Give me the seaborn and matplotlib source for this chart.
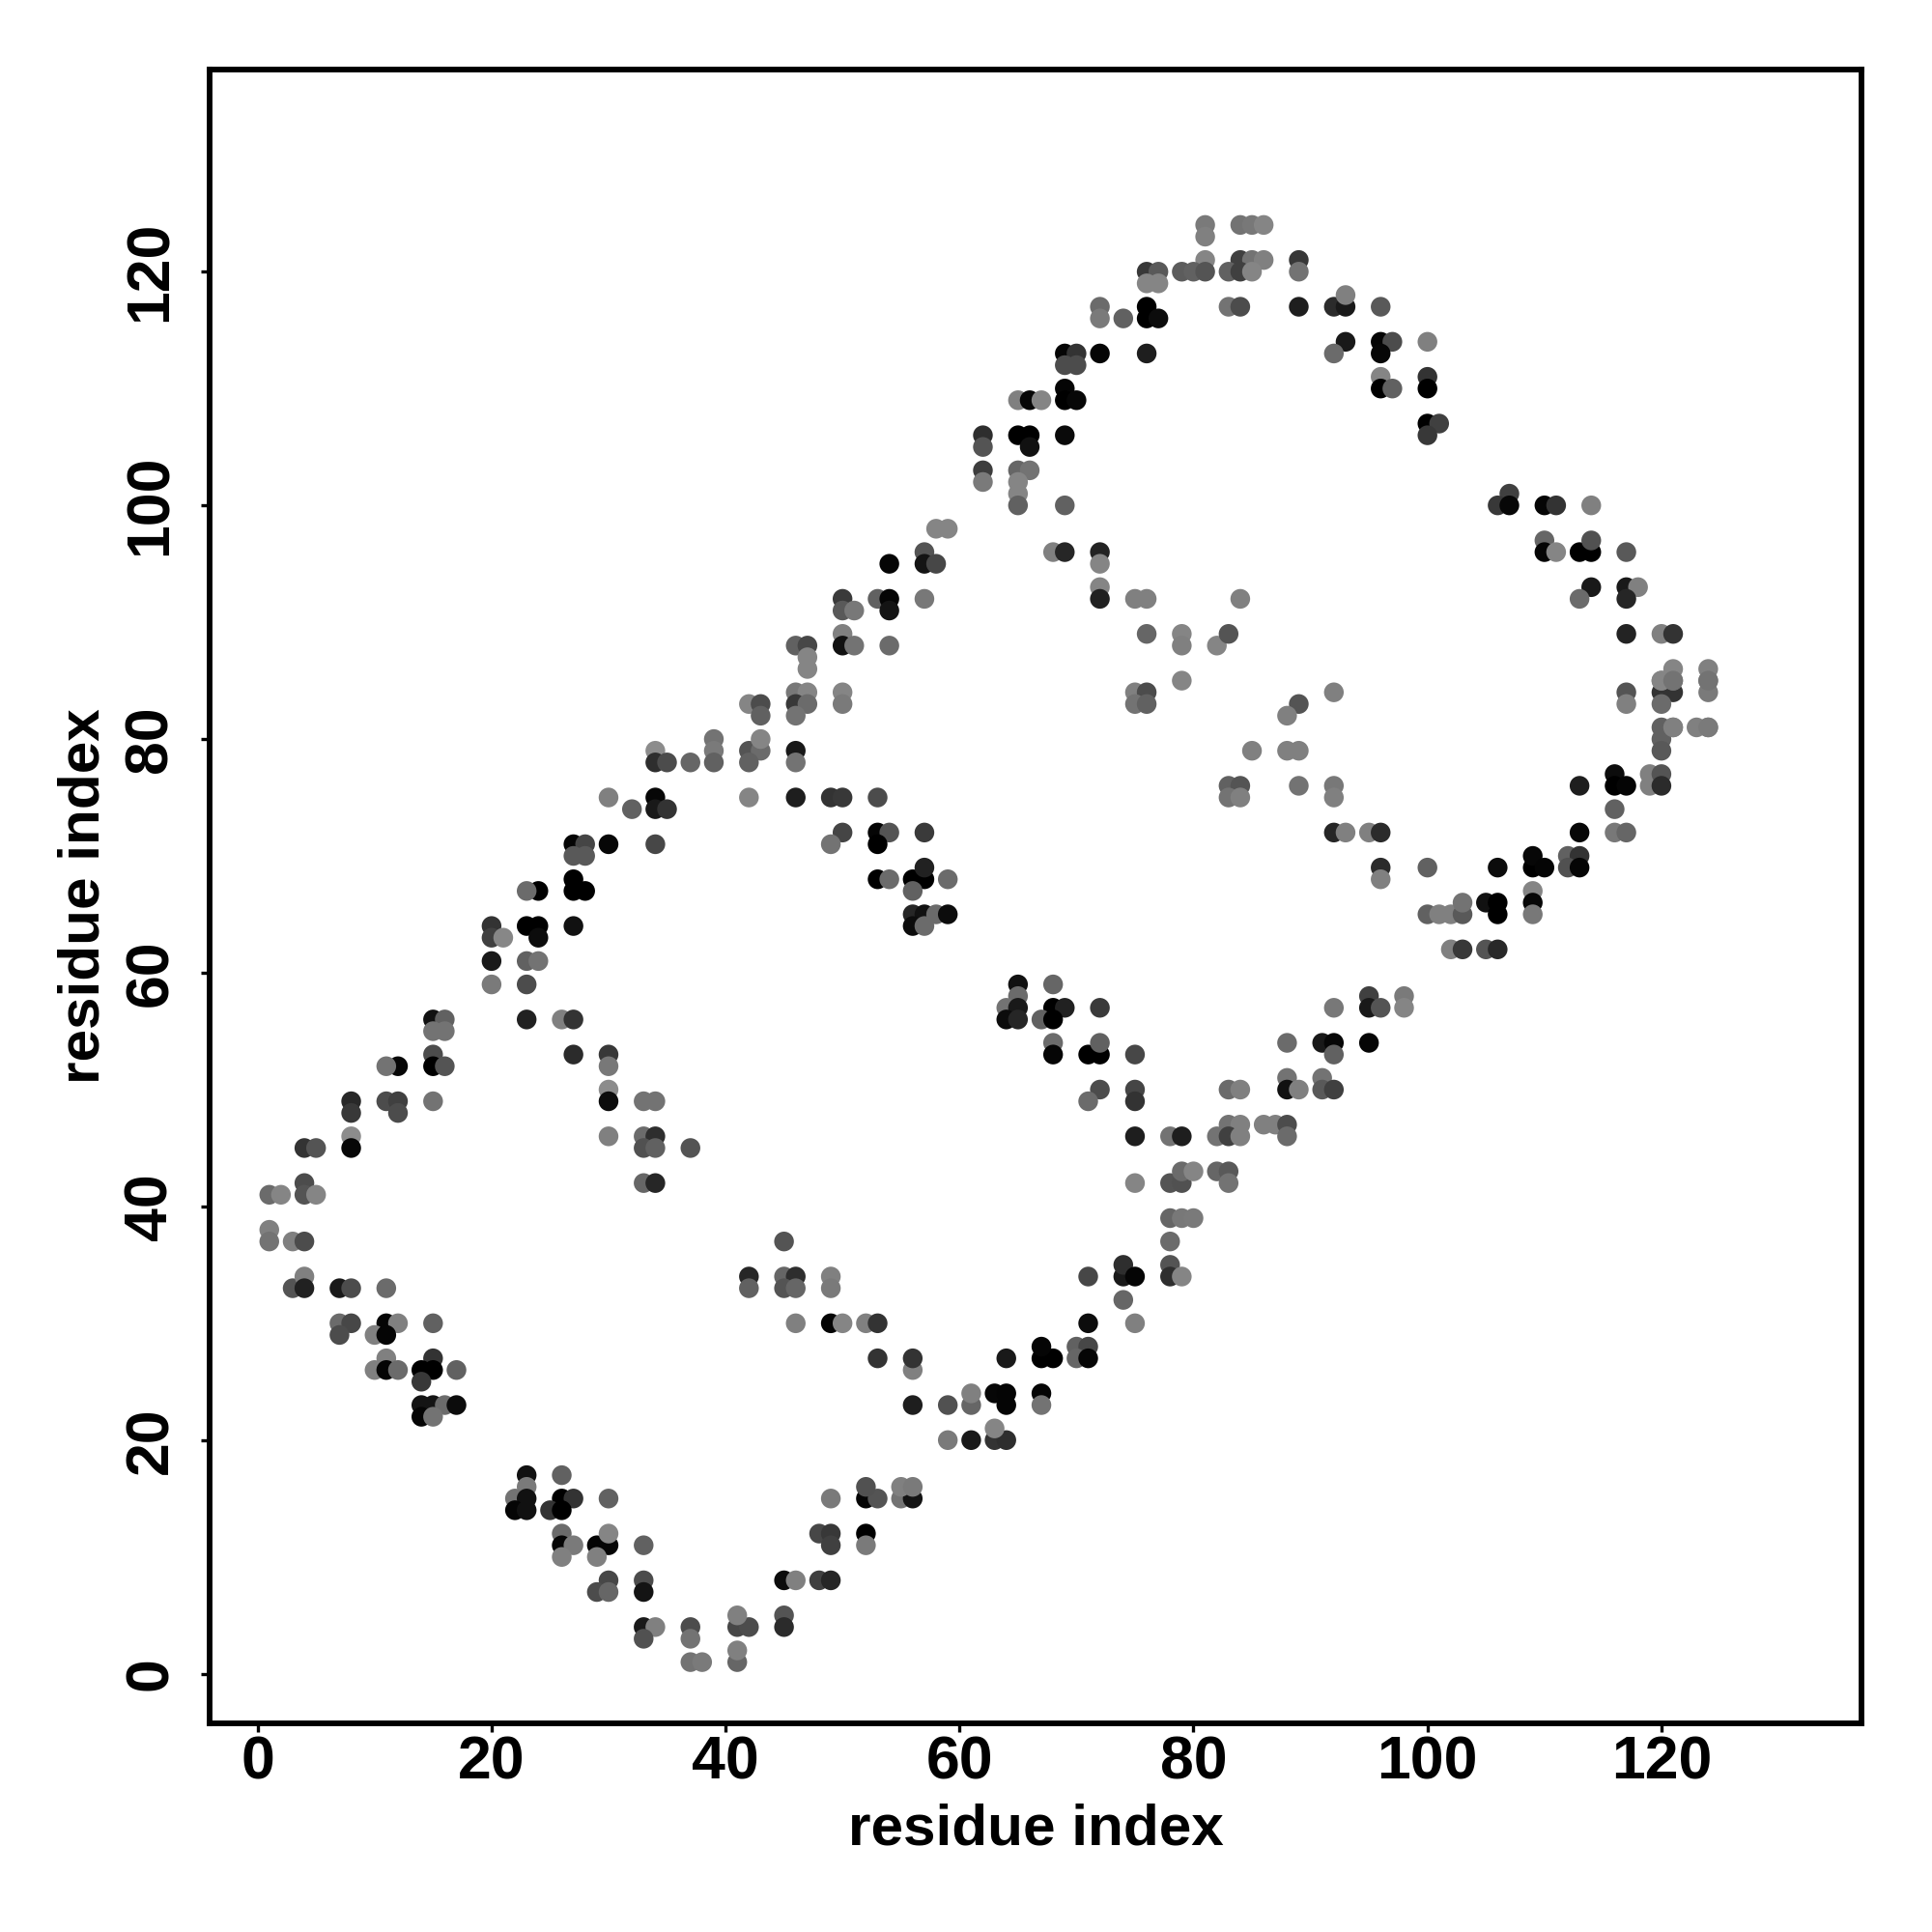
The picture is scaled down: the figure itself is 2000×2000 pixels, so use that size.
import matplotlib
matplotlib.use('Agg')
import matplotlib.pyplot as plt
import pandas as pd
import seaborn as sns

# contact map, line by line the three lists stay aligned
res_i = [
    1, 2, 4, 4, 5, 1, 1, 3, 4, 3, 4, 4, 7, 8, 11,
    7, 8, 7, 11, 12, 10, 11, 15, 11, 10, 11, 12, 15, 14, 15, 14, 17,
    14, 15, 16, 17, 14, 15,
    23, 23, 22, 23, 22, 23, 26, 26, 27, 25, 26, 30,
    26, 26, 27, 26, 29, 30, 30, 29, 33,
    30, 29, 30, 33, 33, 33, 34, 33, 37, 37, 37, 38,
    41, 41, 41, 42, 41, 45, 45,
    45, 46, 48, 49, 48, 49, 49, 52, 52,
    49, 52, 53, 55, 56, 52, 55, 56,
    59, 61, 63, 64, 63, 56, 59, 61, 61, 63, 64, 64, 67, 67,
    56, 53, 56, 64, 67, 68, 67, 70, 71, 70, 71,
    46, 49, 50, 52, 53, 71, 75, 74,
    42, 42, 45, 46, 45, 46, 49, 49,
    71, 74, 74, 75, 78, 78, 79, 78, 45, 78, 79, 80, 75, 78, 79, 79, 80, 82, 83, 83, 33, 34,
    39, 39, 39, 34, 34, 35, 37,
    30, 32, 34, 34, 35, 34, 27, 28, 27, 28, 30,
    27, 27, 28, 24, 23, 20, 23, 24, 24, 20, 21, 27,
    20, 23, 24, 20, 23, 15, 16, 15, 16, 23, 26, 27,
    15, 15, 16, 12, 11, 27, 30, 30,
    11, 12, 12, 8, 8, 15, 30, 30, 33, 34,
    8, 8, 4, 5, 30, 33, 34, 33, 34, 37,
    42, 43, 43, 46, 47, 46, 47, 46, 50, 50,
    42, 43, 43, 42, 46, 46, 42, 46, 49, 50, 53,
    50, 49, 53, 54, 53, 57, 53, 54, 56, 57, 57, 56, 59,
    56, 57, 58, 59, 56, 57,
    65, 68, 65, 64, 65, 64, 65, 68, 69, 67, 68, 72,
    68, 68, 71, 72, 72, 75, 72, 71, 75, 75, 75, 78, 79,
    92, 89, 88, 85, 88, 89, 83, 84, 83, 84, 89, 92, 92,
    92, 93, 95, 96, 96, 96, 100, 100, 101, 102, 103, 103,
    105, 106, 106, 109, 109, 109, 102, 103, 105, 106,
    106, 109, 109, 110, 112, 113, 112, 113,
    113, 116, 116, 117, 119, 119, 120, 120, 116, 116, 117, 113,
    117, 117, 120, 121, 120, 121, 120, 124, 124, 124, 121,
    120, 120, 120, 121, 123, 124,
    92, 95, 95, 96, 98, 98, 88, 91, 92, 92, 95,
    88, 88, 89, 91, 91, 92, 83, 84, 83, 84, 86, 87, 88, 82, 83, 84, 88,
    81, 81, 81, 76, 77, 79, 80, 81, 76, 77,
    72, 72, 74, 76, 76, 77, 69, 70, 72, 76, 69, 70,
    69, 69, 70, 65, 66, 67,
    62, 62, 65, 66, 66, 69,
    62, 62, 65, 66, 65, 65, 65, 69,
    58, 59, 68, 69, 72, 72, 54, 57, 57, 58,
    72, 72, 75, 76, 53, 54, 54, 50, 50, 51, 57,
    76, 79, 79, 82, 50, 50, 51, 54, 46, 47, 47, 47, 79, 75, 76, 75, 76,
    84, 85, 86, 84, 85, 86, 83, 84, 85, 89, 89,
    83, 84, 89, 92, 93, 93, 96,
    93, 92, 96, 97, 96, 100,
    96, 96, 97, 100, 100, 100, 101, 100,
    107, 106, 107, 110, 111, 114,
    110, 110, 111, 113, 114, 114, 117,
    114, 113, 117, 118, 117, 117, 120, 121,
    84, 83, 120, 121, 121, 124, 124,
]
res_j = [
    41, 41, 42, 41, 41, 38, 37, 37, 37, 33, 34, 33, 33, 33, 33,
    30, 30, 29, 30, 30, 29, 29, 30, 27, 26, 26, 26, 27, 26, 26, 25, 26,
    23, 23, 23, 23, 22, 22,
    17, 16, 15, 15, 14, 14, 17, 15, 15, 14, 14, 15,
    12, 11, 11, 10, 11, 11, 12, 10, 11,
    8, 7, 7, 8, 7, 4, 4, 3, 4, 3, 1, 1,
    1, 2, 4, 4, 5, 5, 4,
    8, 8, 8, 8, 12, 12, 11, 12, 11,
    15, 15, 15, 15, 15, 16, 16, 16,
    20, 20, 20, 20, 21, 23, 23, 23, 24, 24, 24, 23, 24, 23,
    26, 27, 27, 27, 27, 27, 28, 28, 28, 27, 27,
    30, 30, 30, 30, 30, 30, 30, 32,
    34, 33, 34, 34, 33, 33, 34, 33,
    34, 34, 35, 34, 35, 34, 34, 37, 37, 39, 39, 39, 42, 42, 42, 43, 43, 43, 43, 42, 42, 42,
    80, 79, 78, 79, 78, 78, 78,
    75, 74, 75, 74, 74, 71, 71, 71, 70, 70, 71,
    68, 67, 67, 67, 67, 64, 64, 64, 63, 63, 63, 64,
    61, 61, 61, 59, 59, 56, 56, 55, 55, 56, 56, 56,
    53, 52, 52, 52, 52, 53, 53, 52,
    49, 49, 48, 49, 48, 49, 50, 49, 49, 49,
    46, 45, 45, 45, 46, 46, 46, 45, 45, 45,
    83, 83, 82, 84, 84, 83, 83, 82, 84, 83,
    79, 79, 80, 78, 79, 78, 75, 75, 75, 75, 75,
    72, 71, 72, 72, 71, 72, 68, 68, 68, 68, 69, 67, 68,
    65, 65, 65, 65, 64, 64,
    59, 59, 58, 57, 57, 56, 56, 57, 57, 56, 56, 57,
    54, 53, 53, 53, 54, 53, 50, 49, 50, 49, 46, 46, 46,
    84, 83, 82, 79, 79, 79, 76, 76, 75, 75, 76, 76, 75,
    72, 72, 72, 72, 69, 68, 69, 65, 65, 65, 65, 66,
    66, 66, 65, 67, 66, 65, 62, 62, 62, 62,
    69, 69, 70, 69, 70, 70, 69, 69,
    76, 77, 76, 76, 77, 76, 77, 76, 74, 72, 72, 72,
    84, 83, 84, 84, 85, 85, 83, 85, 84, 81, 81,
    81, 80, 79, 81, 81, 81,
    57, 58, 57, 57, 58, 57, 54, 54, 54, 53, 54,
    51, 50, 50, 51, 50, 50, 50, 50, 47, 47, 47, 47, 47, 46, 46, 46, 46,
    124, 123, 121, 120, 120, 120, 120, 120, 119, 119,
    117, 116, 116, 117, 116, 116, 113, 113, 113, 113, 112, 112,
    110, 109, 109, 109, 109, 109,
    106, 105, 106, 106, 105, 106,
    103, 102, 103, 103, 102, 101, 100, 100,
    98, 98, 96, 96, 96, 95, 95, 96, 95, 95,
    93, 92, 92, 92, 92, 92, 91, 92, 91, 91, 92,
    89, 89, 88, 88, 89, 88, 88, 88, 88, 88, 87, 86, 85, 84, 84, 83, 83,
    124, 124, 124, 121, 121, 121, 120, 120, 120, 121, 120,
    117, 117, 117, 117, 117, 118, 117,
    114, 113, 114, 114, 113, 114,
    111, 110, 110, 111, 110, 107, 107, 106,
    101, 100, 100, 100, 100, 100,
    97, 96, 96, 96, 96, 97, 96,
    93, 92, 93, 93, 92, 89, 89, 89,
    92, 89, 85, 86, 85, 86, 85,
]
grey = [
    .42, .52, .3, .33, .52, .5, .45, .5, .3, .33, .5, .13, .1, .3, .42,
    .42, .28, .3, .02, .5, .5, .02, .38, .5, .5, .02, .42, .2, 0, 0, .22, .38,
    .08, .08, .42, .05, .02, .45,
    .07, .48, .45, .07, .02, .07, .38, 0, .2, .2, 0, .38,
    .42, .02, .48, .5, .02, .02, .52, .5, .38,
    .28, .3, .4, .3, .08, .1, .5, .32, .3, .45, .45, .48,
    .4, .5, .28, .3, .5, .33, .17,
    .05, .5, .25, .15, .28, .22, .25, 0, .48,
    .48, .02, .33, .45, .08, .32, .5, .48,
    .48, .1, .2, .18, .52, .12, .32, .4, .5, .03, .02, .02, .02, .45,
    .5, .2, .2, .1, 0, 0, .02, .38, .28, .4, .02,
    .5, .02, .52, .5, .2, .05, .5, .4,
    .15, .38, .4, .18, .33, .4, .5, .48,
    .28, .1, .18, .02, .33, .18, .52, .42, .33, .4, .47, .48, .52, .33, .32, .42, .52, .4, .35, .45, .4, .15,
    .45, .48, .38, .55, .18, .3, .4,
    .5, .38, .03, .1, .2, .28, .02, .27, .35, .35, .03,
    0, 0, 0, 0, .42, .2, 0, 0, .05, .25, .53, .07,
    .1, .38, .45, .48, .3, .07, .38, .45, .45, .13, .5, .2,
    .3, 0, .33, .03, .45, .17, .22, .47,
    .3, .25, .3, .16, .22, .45, .55, .05, .45, .45,
    .55, .03, .2, .33, .5, .42, .18, .32, .38, .33,
    .52, .3, .38, .47, .52, .22, .42, .45, .52, .48,
    .33, .42, .52, .38, .1, .45, .52, .12, .2, .22, .3,
    .27, .45, .02, .33, 0, .23, 0, .42, 0, 0, .13, .38, .42,
    .15, .07, .42, .05, .05, .42,
    .07, .4, .42, .45, .1, .05, .15, 0, .13, .38, 0, .23,
    .42, .02, 0, 0, .38, .28, .3, .42, .27, .2, .12, .45, .12,
    .5, .33, .5, .5, .5, .5, .38, .33, .45, .5, .45, .47, .5,
    .15, .5, .5, .17, .17, .5, .38, .38, .5, .5, .35, .45,
    .07, 0, 0, .52, .03, .47, .5, .22, .33, .16,
    .05, 0, .03, .02, .38, .2, .32, .02,
    .12, .05, 0, .02, .5, .5, .33, .17, .38, .47, .4, .03,
    .33, .5, .2, .2, .5, .45, .42, .45, .48, .5, .48,
    .38, .38, .35, .5, .5, .48,
    .47, .25, .1, .33, .48, .52, .42, .1, .03, .38, .02,
    .45, .07, .5, .45, .35, .25, .42, .5, .45, .5, .5, .5, .3, .45, .25, .5, .42,
    .48, .5, .52, .22, .35, .36, .38, .33, .52, .52,
    .42, .48, .38, 0, 0, .05, .02, .2, .02, .12, .3, .3,
    .02, 0, .03, .5, .03, .52,
    .18, .33, 0, 0, .07, .04,
    .24, .48, .4, .45, .52, .52, .38, .38,
    .52, .52, .5, .15, .14, .52, .02, .33, .08, .28,
    .52, .13, .5, .5, .38, .02, .08, .23, .35, .47, .47,
    .4, .52, .5, .52, .5, .07, .45, .42, .38, .28, .52, .52, .52, .5, .3, .45, .38,
    .45, .47, .52, .25, .45, .5, .38, .25, .52, .22, .45,
    .45, .3, .12, .17, .1, .5, .35,
    .1, .42, .02, .3, .03, .5,
    .52, 0, .38, .2, 0, 0, .25, .22,
    .25, .22, .03, .02, .2, .5,
    .4, .02, .52, 0, 0, .32, .35,
    .1, .42, .1, .5, .15, .14, .5, .2,
    .5, .33, .52, .52, .45, .5, .45,
]

df = pd.DataFrame({'i': res_i, 'j': res_j, 'grey': grey})

sns.set_theme(style='white')
plt.rcParams['font.family'] = ['Liberation Sans', 'DejaVu Sans']

fig = plt.figure(figsize=(10, 10), dpi=200)
ax = fig.add_axes([0.1085, 0.108, 0.855, 0.856])

sns.scatterplot(data=df, x='i', y='j', hue='grey', palette='gray', hue_norm=(0, 1),
                s=54, linewidth=0, legend=False, ax=ax)

ax.set_xlim(-4.1, 137.1)
ax.set_ylim(-4.24, 137.3)
ax.set_xticks(range(0, 121, 20))
ax.set_yticks(range(0, 121, 20))
ax.tick_params(axis='both', direction='out', length=3.2, width=1.2, color='black',
               labelsize=22.5, labelcolor='black', bottom=True, left=True)
ax.tick_params(axis='x', pad=1)
ax.tick_params(axis='y', pad=8)
for lab in ax.get_xticklabels() + ax.get_yticklabels():
    lab.set_fontweight('bold')
for lab in ax.get_yticklabels():
    lab.set_rotation(90)
    lab.set_va('center')
ax.set_xlabel('residue index', fontsize=21.7, fontweight='bold', color='black', labelpad=4.4)
ax.set_ylabel('residue index', fontsize=21.7, fontweight='bold', color='black', labelpad=4.5)
for side in ax.spines.values():
    side.set_visible(True)
    side.set_linewidth(2.1)
    side.set_color('black')

fig.savefig('out.png', dpi=200, facecolor='white')
plt.close(fig)
